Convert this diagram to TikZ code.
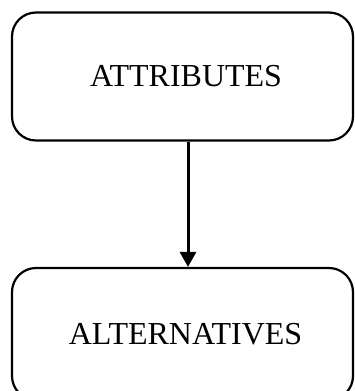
\documentclass[tikz,border=0pt]{standalone}
\usepackage{fontspec}
\setmainfont{Liberation Serif}
\usetikzlibrary{arrows.meta}
\begin{document}
\begin{tikzpicture}[x=1pt,y=1pt,
  box/.style={draw=black, line width=2.2pt, rounded corners=24pt, minimum width=341pt, inner sep=0pt,
    font=\fontsize{32}{36}\selectfont, text=black},
  conn/.style={draw=black, line width=3pt, -{Triangle[length=15pt,width=16pt]}}]
\useasboundingbox (0,0) rectangle (355,-391);
\clip (0,0) rectangle (355,-391);
\node[box, minimum height=128pt] (attr) at (182.5,-76.5) {\hspace*{7pt}ATTRIBUTES};
\node[box, minimum height=132pt] (alt) at (182.5,-334) {\hspace*{6pt}ALTERNATIVES};
\coordinate (ax) at (188,0);
\draw[conn] (attr.south -| ax) -- (alt.north -| ax);
\end{tikzpicture}
\end{document}
